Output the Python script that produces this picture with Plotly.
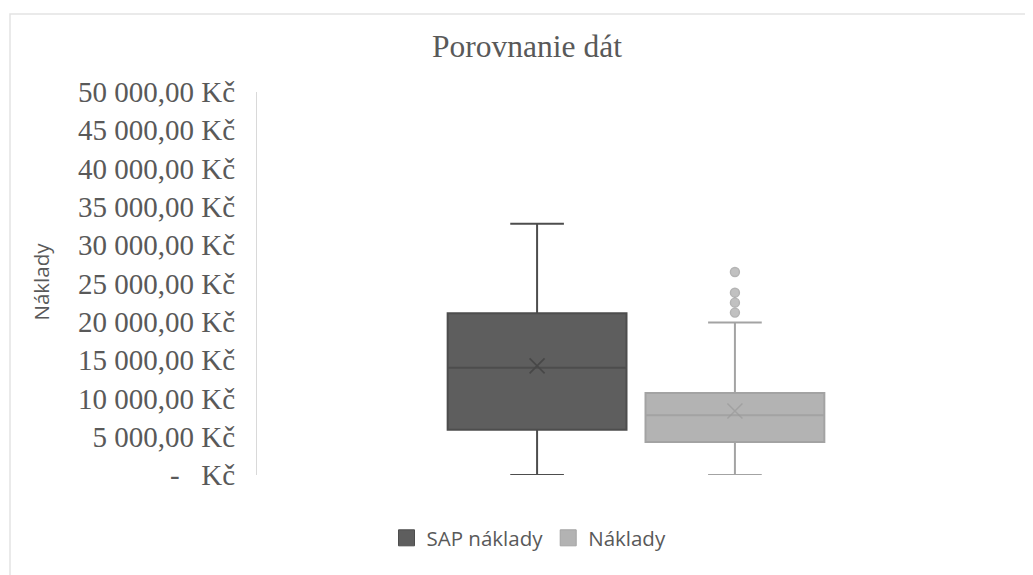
import plotly.graph_objects as go

# ---- data ----
category = ["Porovnanie"]
series_names = ["SAP náklady", "Náklady"]
q1_vals = [5900, 4300]
median_vals = [14000, 7800]
q3_vals = [21100, 10700]
lower_vals = [0, 0]
upper_vals = [32800, 19900]
mean_vals = [14250, 8350]
outliers_naklady = [26500, 23800, 22500, 21200]

tick_vals = [0, 5000, 10000, 15000, 20000, 25000, 30000, 35000, 40000, 45000, 50000]
tick_text = ["-\u00a0\u00a0\u00a0Kč", "5 000,00 Kč", "10 000,00 Kč", "15 000,00 Kč",
             "20 000,00 Kč", "25 000,00 Kč", "30 000,00 Kč", "35 000,00 Kč",
             "40 000,00 Kč", "45 000,00 Kč", "50 000,00 Kč"]

fills = ["#5e5e5e", "#b3b3b3"]
lines = ["#4d4d4d", "#a3a3a3"]
mean_cols = ["#474747", "#9a9a9a"]

# page body has an 8px margin, so layout pixels are offset by 8
W, H = 1033, 575
L, T, R, B = 249, 84, 26, 108
PW, PH = W - L - R, H - T - B

fig = go.Figure()
for i, name in enumerate(series_names):
    fig.add_trace(go.Box(
        x=category, name=name,
        q1=[q1_vals[i]], median=[median_vals[i]], q3=[q3_vals[i]],
        lowerfence=[lower_vals[i]], upperfence=[upper_vals[i]],
        fillcolor=fills[i], line=dict(color=lines[i], width=2),
        whiskerwidth=0.3, boxpoints=False, offsetgroup=str(i),
        showlegend=False, hoverinfo="skip",
    ))

# mean markers and outliers
fig.add_trace(go.Scatter(
    x=category, y=[mean_vals[0]], mode="markers", offsetgroup="0",
    marker=dict(symbol="x-thin", size=15, line=dict(color=mean_cols[0], width=1.6)),
    showlegend=False, hoverinfo="skip"))
fig.add_trace(go.Scatter(
    x=category * (1 + len(outliers_naklady)),
    y=[mean_vals[1]] + outliers_naklady, mode="markers", offsetgroup="1",
    marker=dict(symbol=["x-thin"] + ["circle"] * len(outliers_naklady),
                size=[15] + [9] * len(outliers_naklady),
                color=["#9a9a9a"] + ["#a8a8a8"] * len(outliers_naklady),
                line=dict(color=["#9a9a9a"] + ["#959595"] * len(outliers_naklady), width=1.4)),
    showlegend=False, hoverinfo="skip"))

# legend entries (squares)
for i, name in enumerate(series_names):
    fig.add_trace(go.Scatter(
        x=[None], y=[None], mode="markers", name=name,
        marker=dict(symbol="square", size=20, color=fills[i],
                    line=dict(color=lines[i], width=1))))

fig.update_layout(
    width=W, height=H,
    paper_bgcolor="white", plot_bgcolor="white",
    margin=dict(l=L, r=R, t=T, b=B),
    boxmode="group", boxgap=0.478, boxgroupgap=0.096,
    scattermode="group", scattergap=0.478,
    title=dict(text="Porovnanie dát", x=519 / W, xref="container", xanchor="center",
               y=1 - 38 / H, yref="container", yanchor="middle",
               font=dict(family="Liberation Serif", size=31.5, color="#595959")),
    legend=dict(orientation="h", x=521 / W, xanchor="center", xref="container",
                y=1 - 530 / H, yref="container", yanchor="middle",
                font=dict(family="Open Sans", size=20.5, color="#595959"),
                itemsizing="trace", traceorder="normal"),
    showlegend=True,
    annotations=[dict(text="Náklady", xref="paper", yref="paper",
                      x=(32 - L) / PW, y=(H - B - 273.5) / PH, textangle=-90,
                      showarrow=False, xanchor="center", yanchor="middle",
                      font=dict(family="Open Sans", size=20.5, color="#595959"))],
    shapes=[dict(type="rect", xref="paper", yref="paper",
                 x0=(2 - L) / PW, x1=1.1, y0=-0.5, y1=1 + (T - 6) / PH,
                 line=dict(color="#e3e3e3", width=1.5), layer="below")],
)
fig.update_xaxes(showticklabels=False, showline=False, showgrid=False, zeroline=False,
                 range=[-0.5, 0.5])
fig.update_yaxes(range=[0, 50000], tickvals=tick_vals, ticktext=tick_text,
                 showgrid=False, zeroline=False, showline=True, linecolor="#d9d9d9", linewidth=1,
                 ticks="", ticklabelstandoff=15,
                 tickfont=dict(family="Liberation Serif", size=29, color="#595959"))

fig.write_html("out.html")
